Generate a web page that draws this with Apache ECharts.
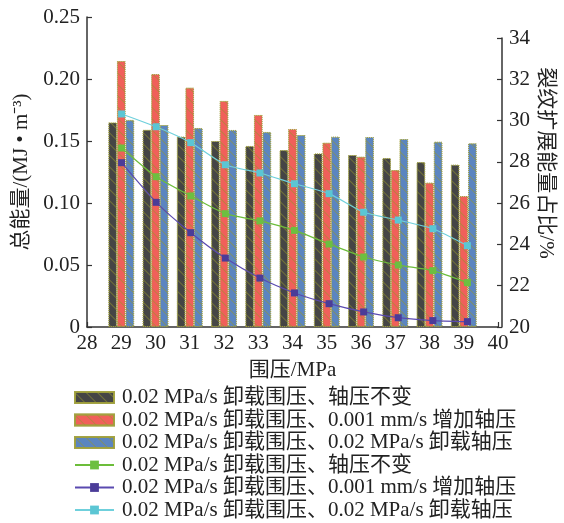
<!DOCTYPE html>
<html><head><meta charset="utf-8">
<script src="https://cdn.jsdelivr.net/npm/echarts@6/dist/echarts.min.js"></script>
<style>html,body{margin:0;padding:0;background:#fff}#c{width:564px;height:523px}</style>
</head><body><div id="c"></div>
<script>
const pressures = [29, 30, 31, 32, 33, 34, 35, 36, 37, 38, 39];
const nameConst = '0.02 MPa/s 卸载围压、轴压不变';
const nameInc = '0.02 MPa/s 卸载围压、0.001 mm/s 增加轴压';
const nameUnl = '0.02 MPa/s 卸载围压、0.02 MPa/s 卸载轴压';
// total energy (MJ·m^-3), bars, left axis
const energyConst = [0.165, 0.159, 0.1535, 0.150, 0.146, 0.1427, 0.140, 0.1387, 0.1363, 0.133, 0.1309];
const energyInc = [0.2145, 0.204, 0.193, 0.1823, 0.171, 0.1597, 0.1486, 0.1373, 0.1266, 0.1164, 0.1056];
const energyUnl = [0.167, 0.1629, 0.1605, 0.1589, 0.1573, 0.1548, 0.1535, 0.1532, 0.1516, 0.1494, 0.1481];
// crack propagation energy ratio (%), lines, right axis
const ratioConst = [28.67, 27.28, 26.35, 25.49, 25.14, 24.68, 24.02, 23.39, 23.0, 22.73, 22.15];
const ratioInc = [27.96, 26.04, 24.57, 23.34, 22.37, 21.65, 21.13, 20.73, 20.45, 20.31, 20.26];
const ratioUnl = [30.32, 29.70, 28.93, 27.86, 27.46, 26.94, 26.46, 25.56, 25.18, 24.76, 23.94];

const FONT = '"Liberation Serif", "Noto Sans CJK SC", serif';
const FS = 21;
const axisColor = '#333';
const decal = {
  symbol: 'rect', symbolSize: 1, color: 'rgba(150,150,45,0.55)',
  dashArrayX: [1, 0], dashArrayY: [1, 7], rotation: Math.PI / 4
};
const pair = arr => pressures.map((p, i) => [p, arr[i]]);

function barSeries(name, data, color) {
  return {
    type: 'bar', name, data: pair(data), xAxisIndex: 0, yAxisIndex: 0,
    barWidth: 8.6, barGap: '0%',
    itemStyle: { color, borderColor: 'rgba(160,160,60,0.8)', borderWidth: 1, borderType: 'dotted', decal }
  };
}
function lineSeries(name, data, color, mcolor) {
  return {
    type: 'line', name: name + '\u200b', data: pair(data), xAxisIndex: 1, yAxisIndex: 1,
    symbol: 'rect', symbolSize: 7, smooth: 0.2, z: 5,
    lineStyle: { color, width: 1.2 },
    itemStyle: { color: mcolor }
  };
}
const labelStyle = { fontSize: FS, color: '#222', fontFamily: FONT };

const chart = echarts.init(document.getElementById('c'));
chart.setOption({
  animation: false,
  backgroundColor: '#fff',
  textStyle: { fontFamily: FONT },
  grid: [
    { left: 87, right: 62, top: 17, bottom: 196 },
    { left: 87, right: 62, top: 38, bottom: 196 }
  ],
  xAxis: [
    {
      type: 'value', gridIndex: 0, min: 28, max: 40, interval: 1,
      name: '围压/MPa', nameLocation: 'middle', nameGap: 33,
      nameTextStyle: labelStyle,
      axisLine: { lineStyle: { color: axisColor, width: 1.5 } },
      axisTick: { inside: true, length: 5, lineStyle: { color: axisColor, width: 1.2 } },
      splitLine: { show: false },
      axisLabel: Object.assign({ margin: 6 }, labelStyle)
    },
    { type: 'value', gridIndex: 1, min: 28, max: 40, show: false }
  ],
  yAxis: [
    {
      type: 'value', gridIndex: 0, min: 0, max: 0.25, interval: 0.05, position: 'left',
      name: '总能量/(MJ • m⁻³)', nameLocation: 'middle', nameGap: 55,
      nameTextStyle: labelStyle,
      axisLine: { show: true, lineStyle: { color: axisColor, width: 1.5 } },
      axisTick: { show: true, inside: true, length: 5, lineStyle: { color: axisColor, width: 1.2 } },
      splitLine: { show: false },
      axisLabel: Object.assign({ margin: 7, formatter: v => v === 0 ? '0' : v.toFixed(2) }, labelStyle)
    },
    {
      type: 'value', gridIndex: 1, min: 20, max: 34, interval: 2, position: 'right',
      axisLine: { show: true, lineStyle: { color: axisColor, width: 1.5 } },
      axisTick: { show: true, inside: true, length: 5, lineStyle: { color: axisColor, width: 1.2 } },
      splitLine: { show: false },
      axisLabel: Object.assign({ margin: 7 }, labelStyle)
    },
    {
      type: 'value', gridIndex: 0, min: 0, max: 1, position: 'right',
      name: '裂纹扩展能量占比/%', nameLocation: 'middle', nameGap: 37, nameRotate: -90,
      nameTextStyle: Object.assign({ padding: [0, 18, 0, 0] }, labelStyle),
      axisLine: { show: false }, axisTick: { show: false }, axisLabel: { show: false },
      splitLine: { show: false }
    }
  ],
  legend: {
    orient: 'vertical', left: 74, top: 387, padding: 0, height: 137,
    itemWidth: 39, itemHeight: 11, itemGap: 1.5,
    textStyle: Object.assign({ lineHeight: 21, padding: [0, 0, 0, 3] }, labelStyle),
    data: [
      { name: nameConst, icon: 'rect' },
      { name: nameInc, icon: 'rect' },
      { name: nameUnl, icon: 'rect' },
      nameConst + '\u200b', nameInc + '\u200b', nameUnl + '\u200b'
    ]
  },
  series: [
    barSeries(nameConst, energyConst, '#454545'),
    barSeries(nameInc, energyInc, '#f0605a'),
    barSeries(nameUnl, energyUnl, '#5b85c0'),
    lineSeries(nameConst, ratioConst, '#6cbd3a', '#6cbf40'),
    lineSeries(nameInc, ratioInc, '#5a4ab0', '#4b3c98'),
    lineSeries(nameUnl, ratioUnl, '#6fd0dc', '#5bc6d4')
  ]
});
</script>
</body></html>
